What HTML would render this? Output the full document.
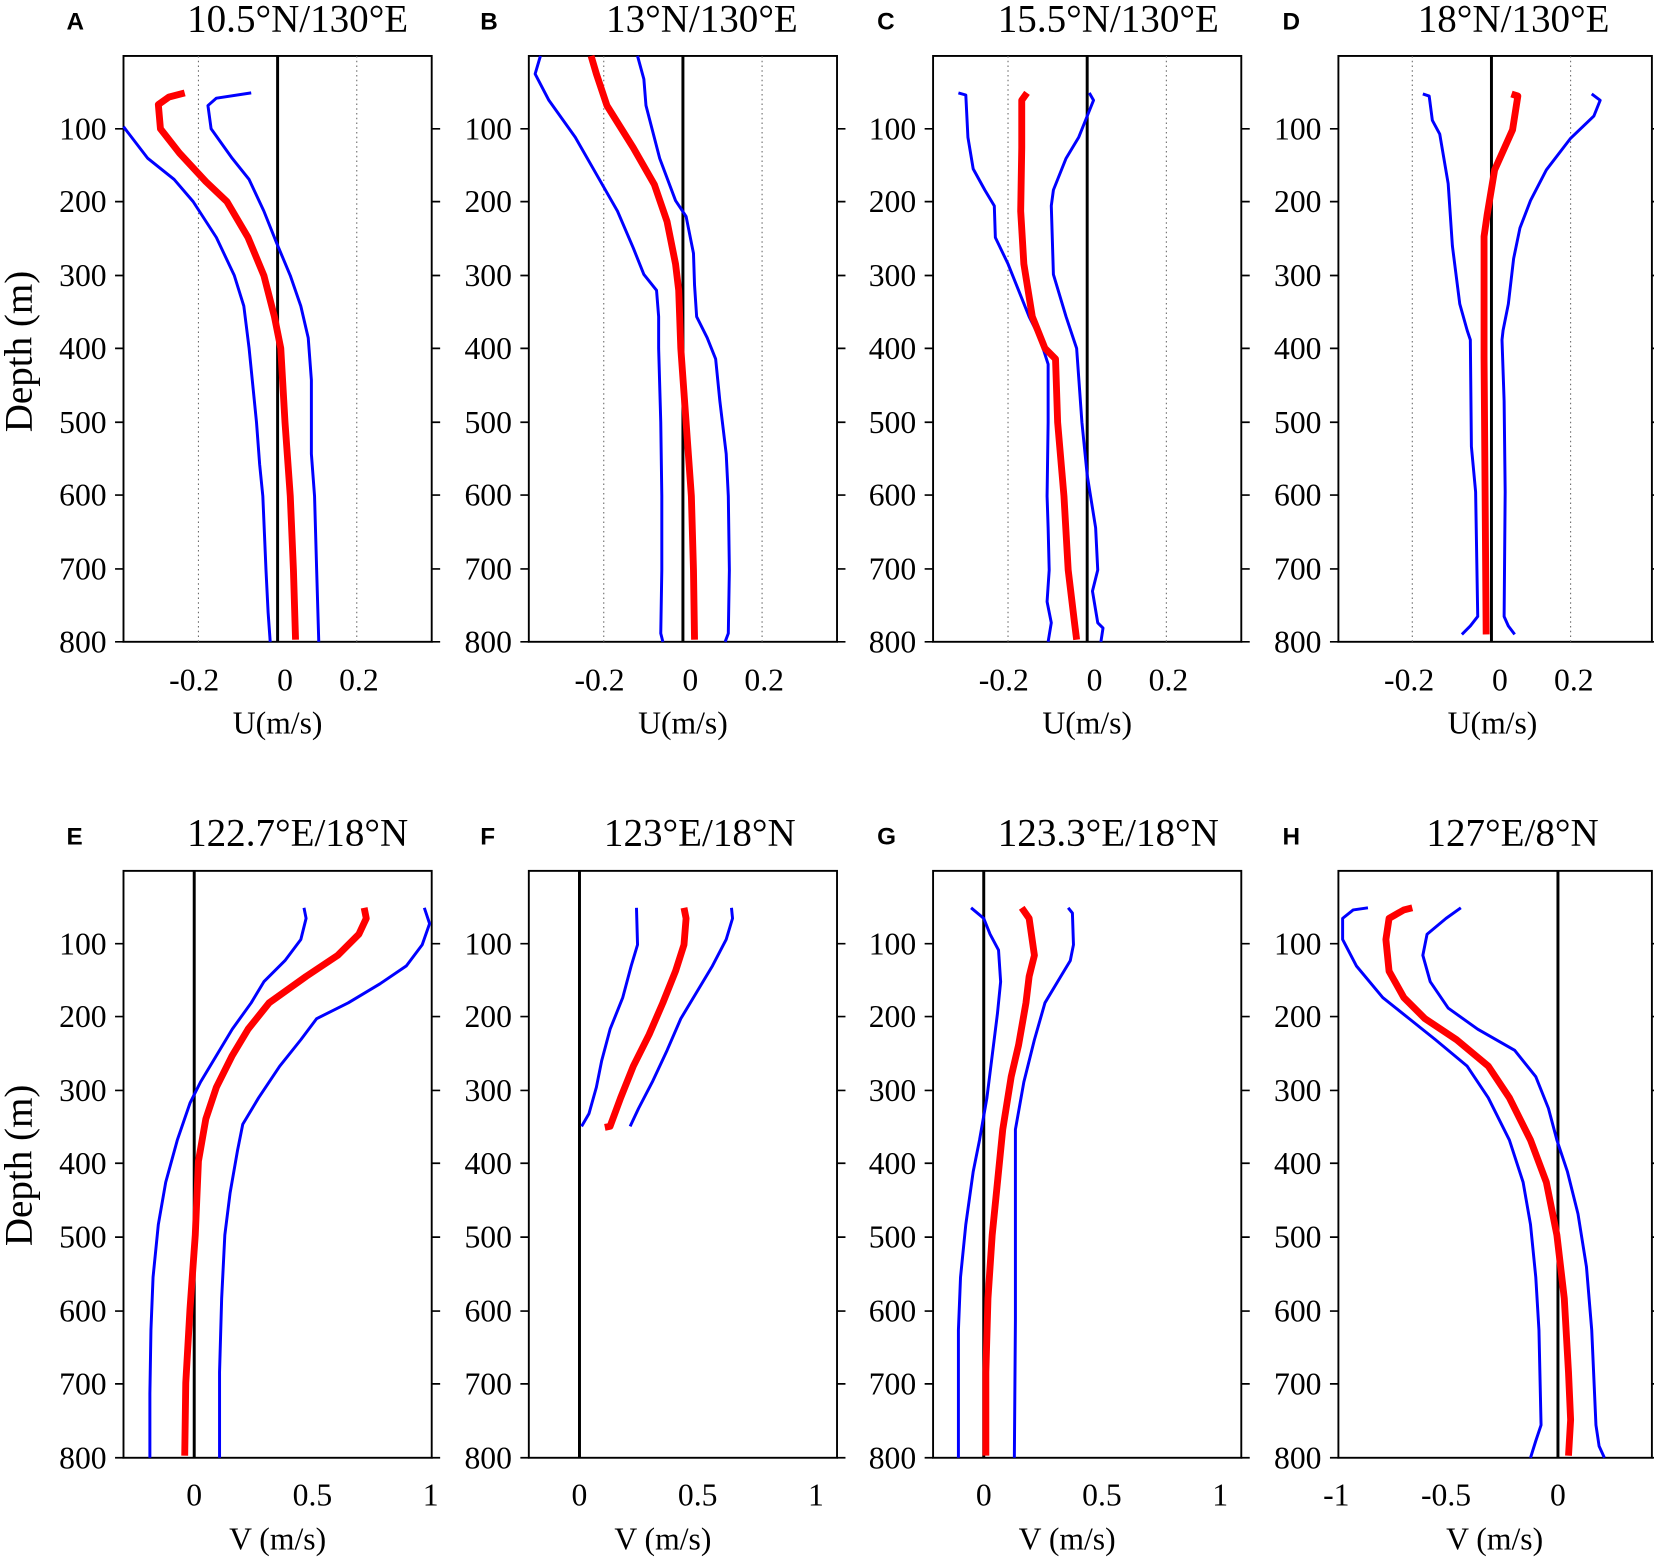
<!DOCTYPE html>
<html><head><meta charset="utf-8"><style>html,body{margin:0;padding:0;background:#fff}svg{display:block}</style></head><body>
<svg width="1654" height="1557" viewBox="0 0 1567 1475" preserveAspectRatio="none" xmlns="http://www.w3.org/2000/svg">
<style>
.t{font-family:"Liberation Serif",serif;font-size:37px}
.k{font-family:"Liberation Serif",serif;font-size:30px}
.L{font-family:"Liberation Sans",sans-serif;font-size:23px;font-weight:bold}
.b{fill:none;stroke:#0000ff;stroke-width:2.8;stroke-linejoin:round}
.r{fill:none;stroke:#ff0000;stroke-width:6.5;stroke-linejoin:round}
.z{stroke:#000;stroke-width:2.8}
.d{stroke:#666;stroke-width:1;stroke-dasharray:1.5,3}
.f{fill:none;stroke:#000;stroke-width:1.8}
</style>
<g class="f">
<rect x="117" y="53" width="292" height="555"/><rect x="501" y="53" width="292" height="555"/>
<rect x="884" y="53" width="292" height="555"/><rect x="1268" y="53" width="297" height="555"/>
<rect x="117" y="825" width="292" height="556"/><rect x="501" y="825" width="292" height="556"/>
<rect x="884" y="825" width="292" height="556"/><rect x="1268" y="825" width="297" height="556"/>
</g>
<g stroke="#000" stroke-width="1.6">
<path d="M109 122h8M109 191h8M109 261h8M109 330h8M109 400h8M109 469h8M109 539h8M109 608h8M409 122h8M409 191h8M409 261h8M409 330h8M409 400h8M409 469h8M409 539h8M409 608h8"/>
<path d="M493 122h8M493 191h8M493 261h8M493 330h8M493 400h8M493 469h8M493 539h8M493 608h8M793 122h8M793 191h8M793 261h8M793 330h8M793 400h8M793 469h8M793 539h8M793 608h8"/>
<path d="M876 122h8M876 191h8M876 261h8M876 330h8M876 400h8M876 469h8M876 539h8M876 608h8M1176 122h8M1176 191h8M1176 261h8M1176 330h8M1176 400h8M1176 469h8M1176 539h8M1176 608h8"/>
<path d="M1260 122h8M1260 191h8M1260 261h8M1260 330h8M1260 400h8M1260 469h8M1260 539h8M1260 608h8M1565 122h8M1565 191h8M1565 261h8M1565 330h8M1565 400h8M1565 469h8M1565 539h8M1565 608h8"/>
<path d="M109 894h8M109 963h8M109 1033h8M109 1102h8M109 1172h8M109 1242h8M109 1311h8M109 1381h8M409 894h8M409 963h8M409 1033h8M409 1102h8M409 1172h8M409 1242h8M409 1311h8M409 1381h8"/>
<path d="M493 894h8M493 963h8M493 1033h8M493 1102h8M493 1172h8M493 1242h8M493 1311h8M493 1381h8M793 894h8M793 963h8M793 1033h8M793 1102h8M793 1172h8M793 1242h8M793 1311h8M793 1381h8"/>
<path d="M876 894h8M876 963h8M876 1033h8M876 1102h8M876 1172h8M876 1242h8M876 1311h8M876 1381h8M1176 894h8M1176 963h8M1176 1033h8M1176 1102h8M1176 1172h8M1176 1242h8M1176 1311h8M1176 1381h8"/>
<path d="M1260 894h8M1260 963h8M1260 1033h8M1260 1102h8M1260 1172h8M1260 1242h8M1260 1311h8M1260 1381h8M1565 894h8M1565 963h8M1565 1033h8M1565 1102h8M1565 1172h8M1565 1242h8M1565 1311h8M1565 1381h8"/>
</g>
<g class="d">
<path d="M188 53V608M338 53V608M572 53V608M722 53V608M955 53V608M1105 53V608M1338 53V608M1488 53V608"/>
</g>
<g class="z"><path d="M263 53V608M647 53V608M1030 53V608M1413 53V608M184 825V1381M549 825V1381M932 825V1381M1476 825V1381"/></g>
<polyline class="b" points="117,120 140,150 165,170 183,191 205,225 222,261 231,290 236,330 240,370 243,400 246,440 249,470 252,540 254,580 256,608"/>
<polyline class="b" points="238,88 205,93 197,100 200,122 220,150 236,170 250,200 262,230 275,261 285,290 292,320 295,360 295,430 298,470 300,540 302,608"/>
<polyline class="r" points="175,88 160,92 150,99 152,122 170,145 195,172 215,191 235,225 250,261 260,300 266,330 270,400 275,470 278,540 280,606"/>
<polyline class="b" points="512,53 507,70 520,95 545,130 565,165 585,200 600,235 610,260 622,275 624,300 624,330 626,400 627,470 627,540 626,600 628,608"/>
<polyline class="b" points="604,53 610,75 612,100 625,150 640,190 650,205 657,240 658,270 660,300 670,320 678,340 682,380 688,430 690,470 691,540 690,600 687,608"/>
<polyline class="r" points="560,53 565,70 575,100 600,140 620,175 632,210 640,250 643,275 645,330 650,400 655,470 657,540 658,606"/>
<polyline class="b" points="908,88 915,90 917,130 922,160 933,180 942,195 943,225 955,250 965,275 975,300 985,320 993,345 993,400 992,470 993,500 994,540 992,570 996,590 993,608"/>
<polyline class="b" points="1032,88 1036,95 1030,110 1022,130 1010,150 998,180 996,195 998,260 1010,300 1020,330 1025,400 1030,450 1038,500 1040,540 1035,560 1040,590 1045,595 1043,608"/>
<polyline class="r" points="973,88 968,95 968,140 967,200 970,250 978,300 990,330 1000,340 1002,400 1008,470 1012,540 1018,590 1020,606"/>
<polyline class="b" points="1348,89 1354,91 1357,114 1364,127 1372,174 1376,233 1383,288 1390,313 1393,322 1394,423 1398,466 1400,584 1393,593 1385,601"/>
<polyline class="b" points="1508,89 1516,95 1510,110 1488,131 1465,161 1450,190 1440,216 1434,245 1429,288 1424,313 1423,322 1425,380 1426,466 1425,584 1429,593 1435,601"/>
<polyline class="r" points="1432,89 1438,91 1433,123 1416,161 1409,203 1406,224 1406,339 1408,601"/>
<polyline class="b" points="288,860 290,870 285,890 270,910 250,930 238,950 220,975 205,1000 190,1025 180,1045 168,1080 157,1120 150,1160 145,1210 143,1260 142,1320 142,1381"/>
<polyline class="b" points="402,860 407,875 400,895 385,915 360,932 330,950 300,965 285,985 265,1010 245,1040 230,1065 225,1090 218,1130 213,1170 210,1230 208,1300 208,1381"/>
<polyline class="r" points="345,860 347,870 340,885 320,905 290,925 255,950 235,975 220,1000 205,1030 195,1060 188,1100 185,1170 180,1240 176,1310 175,1379"/>
<polyline class="b" points="603,860 604,895 598,915 590,945 578,975 570,1005 565,1030 558,1055 551,1067"/>
<polyline class="b" points="693,860 694,870 688,890 675,915 660,940 645,965 632,995 618,1025 605,1050 597,1067"/>
<polyline class="r" points="648,860 650,870 648,895 640,920 628,950 615,980 600,1010 588,1040 578,1067 573,1068"/>
<polyline class="b" points="920,860 932,870 938,885 946,900 948,930 945,960 940,1000 935,1040 928,1080 922,1110 915,1160 910,1210 908,1260 908,1381"/>
<polyline class="b" points="1012,860 1016,865 1017,895 1014,910 1005,925 990,950 980,985 970,1025 962,1070 962,1120 962,1250 961,1381"/>
<polyline class="r" points="968,860 975,870 980,905 975,925 972,950 965,990 958,1020 950,1070 945,1120 940,1170 936,1230 934,1300 934,1379"/>
<polyline class="b" points="1296,860 1282,862 1272,870 1272,890 1285,915 1310,945 1335,965 1360,985 1390,1010 1410,1040 1430,1080 1443,1120 1450,1160 1455,1210 1458,1260 1460,1350 1455,1365 1450,1381"/>
<polyline class="b" points="1384,860 1370,870 1352,885 1348,905 1355,930 1372,955 1400,975 1435,995 1455,1020 1467,1050 1475,1080 1485,1110 1495,1150 1503,1200 1508,1260 1512,1350 1515,1370 1520,1381"/>
<polyline class="r" points="1338,860 1330,862 1316,870 1313,890 1316,920 1330,945 1350,965 1380,985 1410,1010 1430,1040 1450,1080 1465,1120 1475,1170 1482,1230 1486,1300 1488,1345 1486,1379"/>
<g class="t" text-anchor="middle">
<text x="282" y="30">10.5°N/130°E</text><text x="665" y="30">13°N/130°E</text>
<text x="1050" y="30">15.5°N/130°E</text><text x="1434" y="30">18°N/130°E</text>
<text x="282" y="801">122.7°E/18°N</text><text x="663" y="801">123°E/18°N</text>
<text x="1050" y="801">123.3°E/18°N</text><text x="1433" y="801">127°E/8°N</text>
</g>
<g class="L">
<text x="63" y="28">A</text><text x="455" y="28">B</text><text x="831" y="28">C</text><text x="1215" y="28">D</text>
<text x="63" y="800">E</text><text x="455" y="800">F</text><text x="831" y="800">G</text><text x="1215" y="800">H</text>
</g>
<g class="k" text-anchor="end">
<g id="dl"><text x="101" y="132">100</text><text x="101" y="201">200</text><text x="101" y="271">300</text><text x="101" y="340">400</text><text x="101" y="410">500</text><text x="101" y="479">600</text><text x="101" y="549">700</text><text x="101" y="618">800</text></g>
<use href="#dl" x="384"/><use href="#dl" x="767"/><use href="#dl" x="1151"/>
<g id="dl2"><text x="101" y="904">100</text><text x="101" y="973">200</text><text x="101" y="1043">300</text><text x="101" y="1112">400</text><text x="101" y="1182">500</text><text x="101" y="1252">600</text><text x="101" y="1321">700</text><text x="101" y="1391">800</text></g>
<use href="#dl2" x="384"/><use href="#dl2" x="767"/><use href="#dl2" x="1151"/>
</g>
<g class="k" text-anchor="middle">
<g id="ux"><text x="184" y="654">-0.2</text><text x="270" y="654">0</text><text x="340" y="654">0.2</text><text x="263" y="695">U(m/s)</text></g>
<use href="#ux" x="384"/><use href="#ux" x="767"/><use href="#ux" x="1151"/>
<g id="vx"><text x="184" y="1426">0</text><text x="296" y="1426">0.5</text><text x="408" y="1426">1</text><text x="263" y="1468">V (m/s)</text></g>
<use href="#vx" x="365"/><use href="#vx" x="748"/>
<text x="1266" y="1426">-1</text><text x="1370" y="1426">-0.5</text><text x="1476" y="1426">0</text><text x="1416" y="1468">V (m/s)</text>
</g>
<g class="t" text-anchor="middle">
<text transform="translate(30,333) rotate(-90)">Depth (m)</text>
<text transform="translate(30,1104) rotate(-90)">Depth (m)</text>
</g>
</svg>
</body></html>
